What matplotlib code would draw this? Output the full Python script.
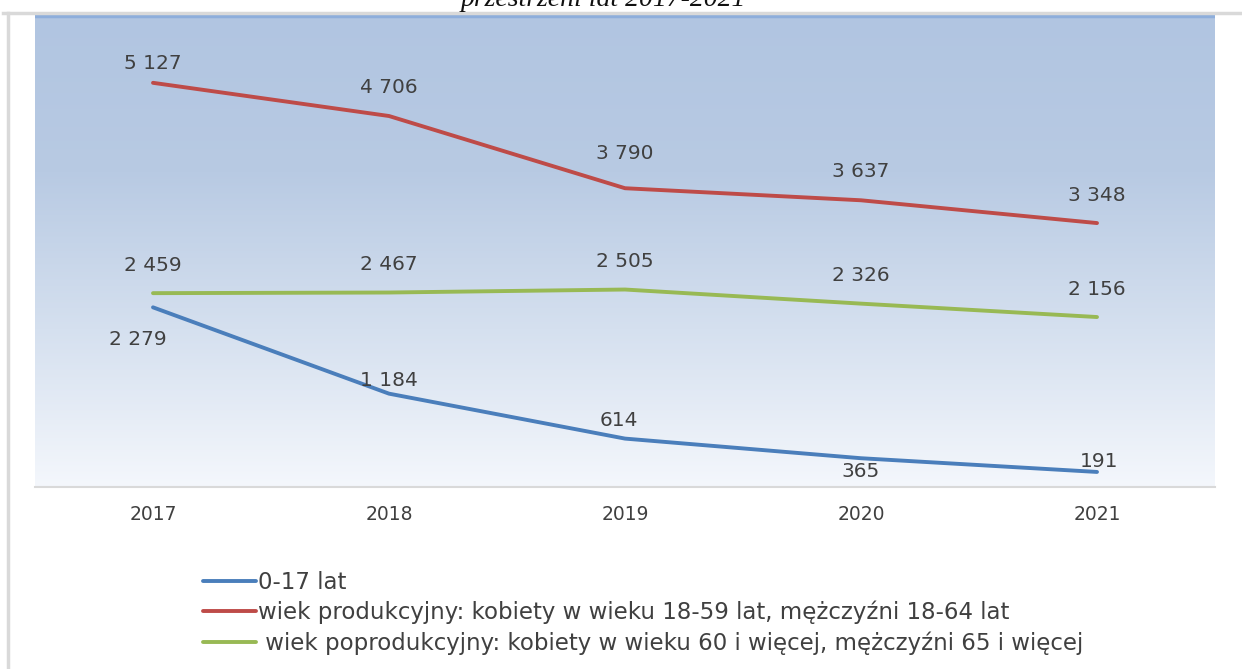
import numpy as np
import matplotlib.pyplot as plt
from matplotlib.colors import LinearSegmentedColormap
from matplotlib.lines import Line2D

# Chart data
years = ['2017', '2018', '2019', '2020', '2021']
age_0_17 = [2279, 1184, 614, 365, 191]
productive = [5127, 4706, 3790, 3637, 3348]
post_productive = [2459, 2467, 2505, 2326, 2156]

series_labels = [
    '0-17 lat',
    'wiek produkcyjny: kobiety w wieku 18-59 lat, mężczyźni 18-64 lat',
    ' wiek poprodukcyjny: kobiety w wieku 60 i więcej, mężczyźni 65 i więcej',
]
series_colors = ['#4a7ebb', '#be4b48', '#98b954']

# label offsets in pixels (dx, dy of label centre from the point), Excel-like layout
productive_offsets = [(0, 19), (0, 29), (0, 35), (0, 29), (0, 28)]
post_offsets = [(0, 28), (0, 28), (0, 28), (0, 28), (0, 28)]
blue_offsets = [(-15, -32), (0, 13), (-6, 18), (0, -13), (2, 10)]

plt.rcParams['font.family'] = ['DejaVu Sans']

W, H = 1242, 669
fig = plt.figure(figsize=(W / 100, H / 100), dpi=100)

# cut-off title at the very top
fig.text(603 / W, 1 + 1 / H, 'przestrzeni lat 2017-2021', ha='center', va='center',
         fontsize=20, style='italic', family='Liberation Serif', color='#111111')

# frame lines of the embedded chart
fig.add_artist(Line2D([3 / W, 1], [1 - 13 / H, 1 - 13 / H], color='#d9d9d9', lw=2.5))
fig.add_artist(Line2D([8 / W, 8 / W], [0, 1 - 13 / H], color='#d9d9d9', lw=2.5))

ax = fig.add_axes([35 / W, 1 - 487 / H, (1215 - 35) / W, (487 - 14) / H])

x = np.arange(len(years))
ax.set_xlim(-0.5, len(years) - 0.5)
ax.set_ylim(0, 6000)

# gradient background
cmap = LinearSegmentedColormap.from_list('bg', ['#f4f7fc', '#d5e0ef', '#b8cae3', '#b1c5e1'])
grad = np.linspace(0, 1, 256).reshape(-1, 1)
ax.imshow(grad, cmap=cmap, aspect='auto', extent=(-0.5, len(years) - 0.5, 0, 6000),
          origin='lower', zorder=0)
ax.axhline(5980, color='#8eaedb', lw=2.5, zorder=1)

lines = []
for vals, col in zip([age_0_17, productive, post_productive], series_colors):
    ln, = ax.plot(x, vals, color=col, lw=2.8, solid_capstyle='round', zorder=3)
    lines.append(ln)


def fmt(v):
    return f'{v:,}'.replace(',', ' ')


# offsets are given in pixels at 100 dpi -> points = px * 0.72
for vals, offs in [(productive, productive_offsets), (post_productive, post_offsets),
                   (age_0_17, blue_offsets)]:
    for i, v in enumerate(vals):
        dx, dy = offs[i]
        ax.annotate(fmt(v), (x[i], v), xytext=(dx * 0.72, dy * 0.72),
                    textcoords='offset points', ha='center', va='center',
                    fontsize=14.5, color='#404040', zorder=4)

ax.set_xticks(x)
ax.set_xticklabels(years, fontsize=13.5, color='#404040')
ax.tick_params(axis='x', length=0, pad=13)
ax.set_yticks([])
for s in ['top', 'right', 'left']:
    ax.spines[s].set_visible(False)
ax.spines['bottom'].set_color('#d9d9d9')
ax.spines['bottom'].set_linewidth(1.5)

fig.legend(lines, series_labels, loc='upper left', bbox_to_anchor=(203 / W, 1 - 571 / H),
           frameon=False, fontsize=16.5, handlelength=2.3, handletextpad=0.12,
           labelspacing=0.3, labelcolor='#404040', borderaxespad=0, borderpad=0)

fig.savefig('out.png', dpi=100)
